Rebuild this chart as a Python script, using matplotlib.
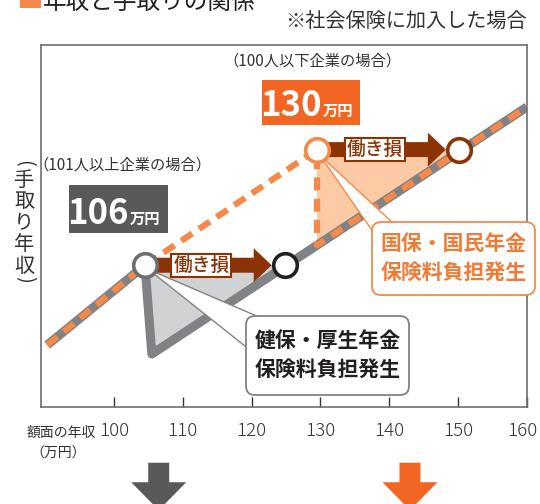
import matplotlib
matplotlib.use("Agg")
import matplotlib.pyplot as plt
from matplotlib.patches import Polygon, Rectangle, FancyArrow, FancyBboxPatch
import matplotlib.transforms as mtransforms
import numpy as np

plt.rcParams['font.family'] = ['Noto Sans CJK JP', 'DejaVu Sans']

# gross income (万円) on x, take-home (schematic units) on y
pre_gross = [90.3, 104.5, 129.5]     # take-home before social insurance
pre_net = [9.0, 20.6, 37.4]
main_gross = [105.5, 160.0]          # take-home with social insurance
main_net = [7.7, 43.6]

large_start = 104.5                  # 101人以上: 106万円 wall
large_even = 124.8                   # back to same take-home
small_start = 129.5                  # 100人以下: 130万円 wall
small_even = 150.1

xticks = [100, 110, 120, 130, 140, 150, 160]

GRAY = '#808285'
ORANGE = '#f5894a'
DEEP_ORANGE = '#f26522'
BROWN = '#8c3305'
DARK = '#58595b'
TEXT = '#231f20'

fig = plt.figure(figsize=(5.4, 5.04), dpi=100)
W, H = 540., 504.
ax = fig.add_axes([41 / W, 1 - 407 / H, 486 / W, 362 / H])
ax.set_xlim(89.4, 160)
ax.set_ylim(0, 52.6)
ppu = 486 / 70.6   # pixels per data unit


def px(x, y):
    # picture pixel -> data coordinates (for annotation layout)
    return 89.4 + (x - 41) / ppu, (407 - y) / ppu


large_net = np.interp(large_start, pre_gross, pre_net)
small_net = np.interp(small_start, pre_gross, pre_net)
small_drop = np.interp(small_start, main_gross, main_net)

# shaded loss triangles
ax.add_patch(Polygon([(large_start, large_net), (main_gross[0], main_net[0]),
                      (large_even, large_net)], closed=True,
                     fc='#d1d2d4', ec='none', zorder=1))
ax.add_patch(Polygon([(small_start, small_net), (small_start, small_drop),
                      (small_even, small_net)], closed=True,
                     fc='#fccba6', ec='none', zorder=1))

# gray path (101人以上)
gx = pre_gross[:2] + main_gross
gy = pre_net[:2] + main_net
ax.plot(gx, gy, color=GRAY, lw=6.5, solid_joinstyle='round',
        solid_capstyle='butt', zorder=2)

# orange dashed path (100人以下)
ox = pre_gross + [small_start, main_gross[1]]
oy = pre_net + [small_drop, main_net[1]]
ax.plot(ox, oy, color=ORANGE, lw=4.5, ls=(0, (2.1, 1.3)),
        dash_joinstyle='round', dash_capstyle='butt', zorder=3)

# callout pointers
ax.add_patch(Polygon([(large_start + 0.5, large_net - 0.6),
                      px(250, 350), px(266, 320)],
                     closed=True, fc='white', ec=GRAY, lw=1.0, zorder=3.5))
ax.add_patch(Polygon([(small_start + 0.4, small_net - 0.8),
                      px(376, 236), px(394, 224)],
                     closed=True, fc='white', ec=ORANGE, lw=1.0, zorder=3.5))

# 働き損 arrows
r = 13 / ppu
for x0, x1, yy in [(large_start, large_even, large_net),
                   (small_start, small_even, small_net)]:
    ax.add_patch(FancyArrow(x0, yy, x1 - r - x0, 0, width=15 / ppu,
                            head_width=34 / ppu, head_length=18 / ppu,
                            length_includes_head=True, fc=BROWN, ec='none',
                            zorder=4))
    ax.text((x0 + x1 - r) / 2 - 1.0, yy, '働き損', ha='center', va='center',
            fontsize=13.5, color=BROWN, fontweight='medium', zorder=4.5,
            bbox=dict(boxstyle='square,pad=0.1', fc='white', ec=BROWN,
                      lw=1.5))

# circles
ax.plot(large_start, large_net, 'o', ms=17, mfc='white', mec='#6d6e71',
        mew=2.6, zorder=5)
ax.plot(large_even, large_net, 'o', ms=17, mfc='white', mec=TEXT,
        mew=2.6, zorder=5)
ax.plot(small_start, small_net, 'o', ms=17, mfc='white', mec=ORANGE,
        mew=2.6, zorder=5)
ax.plot(small_even, small_net, 'o', ms=17, mfc='white', mec=BROWN,
        mew=2.6, zorder=5)

# callout boxes
for (x0, y0), (x1, y1), ec, txt, col in [
        (px(246, 395), px(409, 316), GRAY, '健保・厚生年金\n保険料負担発生', TEXT),
        (px(372, 295), px(535, 222), ORANGE, '国保・国民年金\n保険料負担発生',
         '#f07a36')]:
    ax.add_patch(FancyBboxPatch((x0, y0), x1 - x0, y1 - y0,
                                boxstyle='round,pad=0,rounding_size=1.3',
                                fc='white', ec=ec, lw=1.3, zorder=6,
                                clip_on=False))
    ax.text((x0 + x1) / 2, (y0 + y1) / 2, txt, ha='center', va='center',
            fontsize=15, fontweight='bold', color=col, linespacing=1.55,
            zorder=7)

# threshold labels
ax.text(*px(122, 165), '（101人以上企業の場合）', ha='center', va='center',
        fontsize=11, color='#333333')
ax.add_patch(Rectangle(px(69, 233), 99 / ppu, 48 / ppu, fc=DARK, ec='none'))
ax.text(*px(129, 224), '106', ha='right', va='baseline', fontsize=25,
        fontweight='bold', color='white')
ax.text(*px(130, 224), '万円', ha='left', va='baseline', fontsize=11,
        fontweight='bold', color='white')

ax.text(*px(312, 61), '（100人以下企業の場合）', ha='center', va='center',
        fontsize=11, color='#333333')
ax.add_patch(Rectangle(px(262, 125), 98 / ppu, 45 / ppu, fc=DEEP_ORANGE,
                       ec='none'))
ax.text(*px(322, 116), '130', ha='right', va='baseline', fontsize=25,
        fontweight='bold', color='white')
ax.text(*px(323, 116), '万円', ha='left', va='baseline', fontsize=11,
        fontweight='bold', color='white')

# axes styling
for s in ax.spines.values():
    s.set_color('#6d6e71')
    s.set_linewidth(1.2)
ax.set_xticks(xticks)
ax.set_xticklabels([str(t) for t in xticks], fontsize=13.5,
                   fontweight='light', color='#333333')
ax.tick_params(axis='x', direction='in', length=7.5, width=1.0,
               color='#333333', pad=11)
ax.set_yticks([])
# keep the last label inside the picture
last = ax.get_xticklabels()[-1]
last.set_transform(last.get_transform() +
                   mtransforms.ScaledTranslation(-5 / 100, 0,
                                                 fig.dpi_scale_trans))

fig.text(61 / W, 1 - 433 / H, '額面の年収', ha='center', va='center',
         fontsize=10, color='#333333')
fig.text(58 / W, 1 - 454 / H, '（万円）', ha='center', va='center',
         fontsize=10, color='#333333')

# vertical y label
ylab = ['手', '取', 'り', '年', '収']
for i, ch in enumerate(ylab):
    fig.text(24 / W, 1 - (180 + 21.5 * i) / H, ch, ha='center', va='center',
             fontsize=14.5, color='#333333')
fig.text(24 / W, 1 - 163 / H, '(', rotation=-90, ha='center', va='center',
         fontsize=14.5, color='#333333')
fig.text(24 / W, 1 - 279 / H, ')', rotation=-90, ha='center', va='center',
         fontsize=14.5, color='#333333')

# header (cut off at the top edge, as in the source)
fig.patches.append(Rectangle((20 / W, 1 - 8 / H), 21 / W, 30 / H,
                             transform=fig.transFigure, fc=ORANGE, ec='none'))
fig.text(43 / W, 1 - 9 / H, '年収と手取りの関係', ha='left', va='baseline',
         fontsize=17, color=TEXT)
fig.text(527 / W, 1 - 22 / H, '※社会保険に加入した場合', ha='right',
         va='center', fontsize=14.5, color='#333333')

# down arrows
for xc, col in [(106.5, DARK), (143.0, DEEP_ORANGE)]:
    ax.add_patch(FancyArrow(xc, -8.1, 0, -6.9, width=21 / ppu,
                            head_width=55 / ppu, head_length=28 / ppu,
                            length_includes_head=True, fc=col, ec='none',
                            clip_on=False))

fig.savefig('out.png', dpi=100)
